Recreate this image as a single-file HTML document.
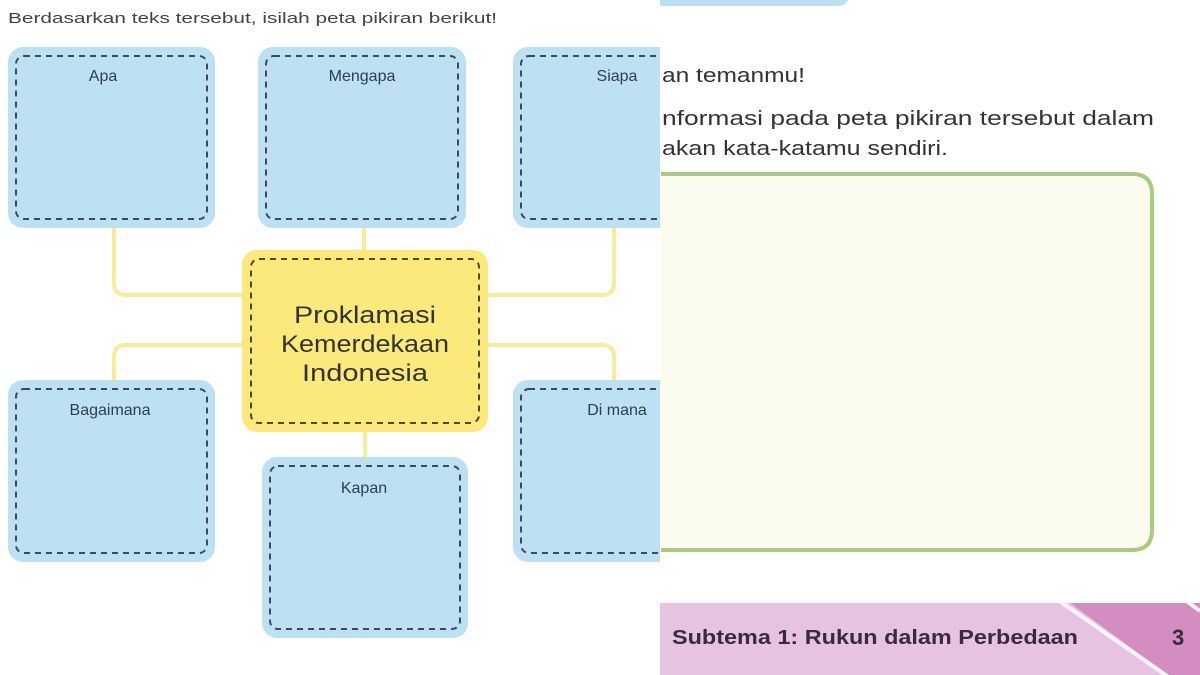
<!DOCTYPE html>
<html><head><meta charset="utf-8"><style>
html,body{margin:0;padding:0;background:#fff;width:1200px;height:675px;overflow:hidden}
svg{display:block}
text{font-family:"Liberation Sans","DejaVu Sans",sans-serif}
</style></head><body>
<svg width="1200" height="675" viewBox="0 0 1200 675" xmlns="http://www.w3.org/2000/svg">
<rect width="1200" height="675" fill="#fff"/>
<g fill="none" stroke="#f8ec96" stroke-width="4">
<path d="M114 228 V283 Q114 295 126 295 H242"/>
<path d="M364 228 V250"/>
<path d="M614 228 V283 Q614 295 602 295 H488"/>
<path d="M242 345 H126 Q114 345 114 357 V380"/>
<path d="M488 345 H602 Q614 345 614 357 V380"/>
<path d="M365 432 V457"/>
</g>
<text x="8" y="23" font-size="15" fill="#444" textLength="489" lengthAdjust="spacingAndGlyphs">Berdasarkan teks tersebut, isilah peta pikiran berikut!</text>
<g fill="#bde0f2">
<rect x="8" y="47" width="207" height="181" rx="15"/>
<rect x="258" y="47" width="208" height="181" rx="15"/>
<rect x="513" y="47" width="170" height="181" rx="15"/>
<rect x="8" y="380" width="207" height="182" rx="15"/>
<rect x="262" y="457" width="206" height="181" rx="15"/>
<rect x="513" y="380" width="170" height="182" rx="15"/>
</g>
<rect x="242" y="250" width="246" height="182" rx="15" fill="#fbe97c"/>
<g fill="none" stroke="#3d4a58" stroke-width="2" stroke-dasharray="6,5">
<rect x="16" y="56" width="191" height="163" rx="8"/>
<rect x="266" y="56" width="192" height="163" rx="8"/>
<rect x="521" y="56" width="170" height="163" rx="8"/>
<rect x="16" y="389" width="191" height="164" rx="8"/>
<rect x="270" y="466" width="190" height="163" rx="8"/>
<rect x="521" y="389" width="170" height="164" rx="8"/>
</g>
<rect x="251" y="259" width="228" height="164" rx="8" fill="none" stroke="#4a4a30" stroke-width="2" stroke-dasharray="6,5"/>
<g font-size="16" fill="#2f3e4c" text-anchor="middle">
<text x="103" y="81">Apa</text>
<text x="362" y="81">Mengapa</text>
<text x="617" y="81">Siapa</text>
<text x="110" y="415">Bagaimana</text>
<text x="364" y="493">Kapan</text>
<text x="617" y="415">Di mana</text>
</g>
<g font-size="24" fill="#333" text-anchor="middle">
<text x="365" y="323" textLength="142" lengthAdjust="spacingAndGlyphs">Proklamasi</text>
<text x="365" y="352" textLength="168" lengthAdjust="spacingAndGlyphs">Kemerdekaan</text>
<text x="365" y="381" textLength="126" lengthAdjust="spacingAndGlyphs">Indonesia</text>
</g>
<rect x="660" y="0" width="540" height="675" fill="#fff"/>
<path d="M660 0 H848 Q846 6 836 6 H660 Z" fill="#bde0f2"/>
<g font-size="20" fill="#333">
<text x="662" y="82" textLength="143" lengthAdjust="spacingAndGlyphs">an temanmu!</text>
<text x="662" y="125" textLength="492" lengthAdjust="spacingAndGlyphs">nformasi pada peta pikiran tersebut dalam</text>
<text x="662" y="155" textLength="286" lengthAdjust="spacingAndGlyphs">akan kata-katamu sendiri.</text>
</g>
<path d="M661 174 H1132 Q1152 174 1152 194 V530 Q1152 550 1132 550 H661" fill="#fbfcef" stroke="#a9cb7d" stroke-width="4"/>
<rect x="660" y="603" width="540" height="72" fill="#e6c3e0"/>
<polygon points="1070,603 1200,603 1200,675 1168,675" fill="#d48dc0"/>
<line x1="1058" y1="600" x2="1170" y2="678" stroke="#fff" stroke-width="4" opacity="0.85"/>
<line x1="1185" y1="600" x2="1200" y2="611" stroke="#fff" stroke-width="4" opacity="0.85"/>
<text x="672" y="644" font-size="20" font-weight="bold" fill="#3a2a3a" textLength="406" lengthAdjust="spacingAndGlyphs">Subtema 1: Rukun dalam Perbedaan</text>
<text x="1172" y="645" font-size="22" font-weight="bold" fill="#3a2a3a">3</text>
</svg>
</body></html>
